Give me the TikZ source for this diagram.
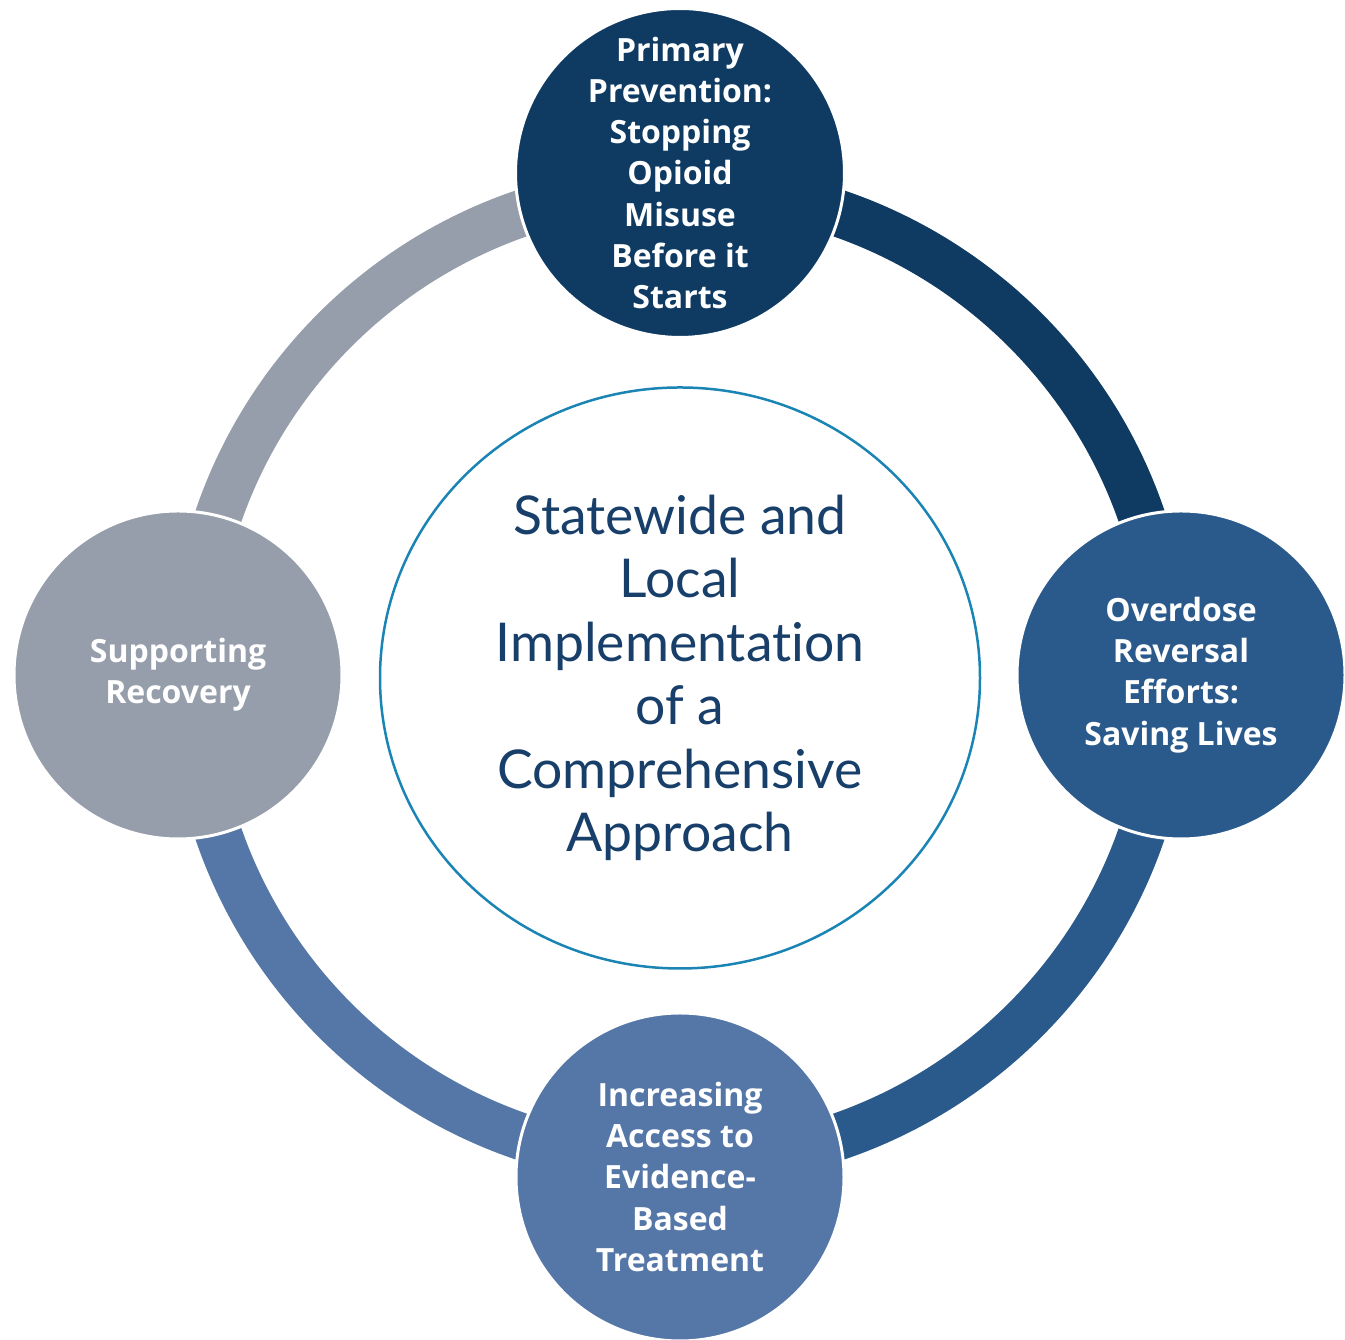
\documentclass[tikz,border=0pt]{standalone}
\usepackage{fontspec}
\setmainfont{Lato}[Ligatures=NoCommon]
\newfontfamily\labelfont{Open Sans}
\usetikzlibrary{shapes.geometric}
\definecolor{cnavy}{HTML}{0F3B63}
\definecolor{cblue}{HTML}{2A5A8B}
\definecolor{clight}{HTML}{5577A8}
\definecolor{cgrey}{HTML}{979EAB}
\definecolor{ctext}{HTML}{173F6A}
\definecolor{cline}{HTML}{1A85B4}
\tikzset{
  ringarc/.style={line width=47pt},
  stage/.style={circle, minimum size=328pt, inner sep=0pt, draw=white, line width=3pt,
    text=white, align=center, font=\labelfont\fontsize{32}{41.3}\selectfont\bfseries},
  hub/.style={ellipse, minimum width=600pt, minimum height=581pt, inner sep=0pt,
    draw=cline, line width=2.5pt, fill=white, text=ctext, align=center,
    font=\fontsize{53.5}{63.5}\selectfont}
}
\begin{document}
\begin{tikzpicture}[x=1pt,y=1pt]
\useasboundingbox (0,0) rectangle (1345,1340);
\coordinate (C) at (680,665);
% ring
\draw[ringarc, cnavy]  (C) ++(90:488pt) arc[start angle=90, end angle=0, radius=488pt];
\draw[ringarc, cblue]  (C) ++(0:488pt) arc[start angle=0, end angle=-90, radius=488pt];
\draw[ringarc, clight] (C) ++(-90:488pt) arc[start angle=-90, end angle=-180, radius=488pt];
\draw[ringarc, cgrey]  (C) ++(180:488pt) arc[start angle=180, end angle=90, radius=488pt];
% hub
\node[hub] (hub) at (680,662) {Statewide and\\Local\\Implementation\\of a\\Comprehensive\\Approach};
% stages
\node[stage, fill=cnavy] (top) at (680,1167) {Primary\\Prevention:\\Stopping\\Opioid\\Misuse\\Before it\\Starts};
\node[stage, fill=cblue] (right) at (1181,665) {Overdose\\Reversal\\Efforts:\\Saving Lives};
\node[stage, fill=clight] (bottom) at (680,163) {Increasing\\Access to\\Evidence-\\Based\\Treatment};
\node[stage, fill=cgrey] (left) at (178,665) {Supporting\\Recovery};
\end{tikzpicture}
\end{document}
